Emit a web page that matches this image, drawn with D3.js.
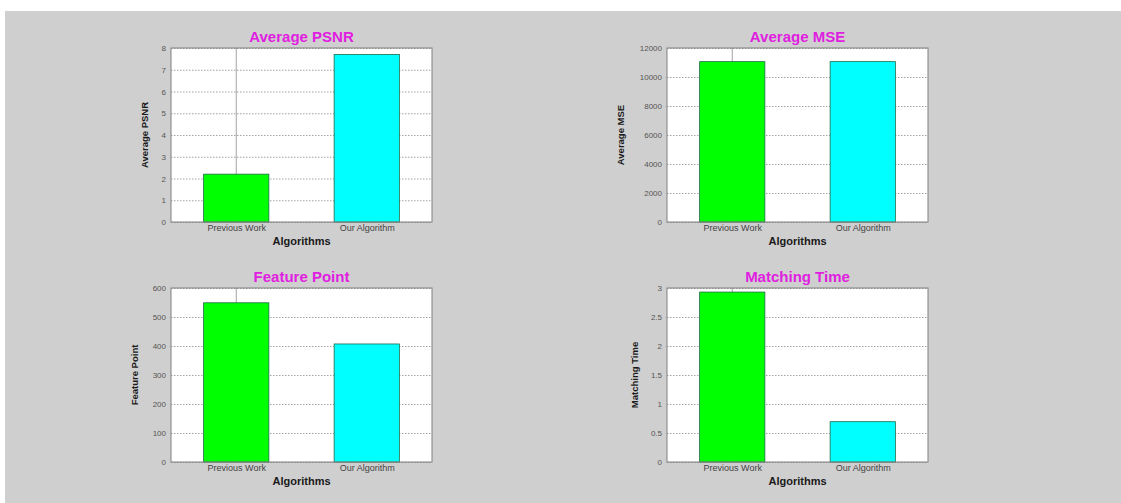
<!DOCTYPE html>
<html>
<head>
<meta charset="utf-8">
<script src="https://cdn.jsdelivr.net/npm/d3@7"></script>
<style>
  body { margin: 0; background: #ffffff; }
</style>
</head>
<body>
<div id="chart"></div>
<script>
// data
let categories = ["Previous Work", "Our Algorithm"]
let barColors = ["#00ff00", "#00ffff"]

let titles = ["Average PSNR", "Average MSE", "Feature Point", "Matching Time"]
let psnrValues = [2.2, 7.7]
let mseValues = [11060, 11060]
let featureValues = [549, 407]
let timeValues = [2.93, 0.695]

let psnrTicks = [0, 1, 2, 3, 4, 5, 6, 7, 8]
let mseTicks = [0, 2000, 4000, 6000, 8000, 10000, 12000]
let featureTicks = [0, 100, 200, 300, 400, 500, 600]
let timeTicks = [0, 0.5, 1, 1.5, 2, 2.5, 3]

var W = 1121, H = 503

var svg = d3.select("#chart")
  .append("svg")
  .attr("width", W)
  .attr("height", H)

// grey figure background under a white strip at the top
svg.append("rect")
  .attr("x", 5).attr("y", 11)
  .attr("width", W - 5).attr("height", H - 11)
  .attr("fill", "#cfcfcf")

var panels = [
  {title: titles[0], values: psnrValues, ticks: psnrTicks, left: 171, top: 48, labelX: -23},
  {title: titles[1], values: mseValues, ticks: mseTicks, left: 667, top: 48, labelX: -43},
  {title: titles[2], values: featureValues, ticks: featureTicks, left: 171, top: 288, labelX: -33},
  {title: titles[3], values: timeValues, ticks: timeTicks, left: 667, top: 288, labelX: -29}
]
var pw = 261, ph = 174
var font = "Arial, 'Liberation Sans', sans-serif"

panels.forEach(function(p) {
  var g = svg.append("g")
    .attr("transform", "translate(" + p.left + "," + p.top + ")")

  var x = d3.scaleLinear().domain([0.5, 2.5]).range([0, pw])
  var y = d3.scaleLinear()
    .domain([0, p.ticks[p.ticks.length - 1]])
    .range([ph, 0])

  g.append("rect")
    .attr("width", pw).attr("height", ph)
    .attr("fill", "#ffffff")

  // dotted horizontal grid
  g.append("g")
    .attr("color", "#8c8c8c")
    .call(d3.axisLeft(y).tickValues(p.ticks).tickSize(-pw).tickFormat(""))
    .call(g => g.select(".domain").remove())
    .call(g => g.selectAll("line").attr("stroke-dasharray", "1.5,1.5").attr("stroke-width", 0.8))

  // solid vertical line at the first category
  g.append("line")
    .attr("x1", x(1)).attr("x2", x(1))
    .attr("y1", 0).attr("y2", ph)
    .attr("stroke", "#8c8c8c")
    .attr("stroke-width", 0.8)

  g.selectAll(".bar")
    .data(p.values)
    .enter()
    .append("rect")
    .attr("class", "bar")
    .attr("x", (d, i) => x(i + 1) - (x(1.25) - x(1)))
    .attr("width", x(1.5) - x(1))
    .attr("y", d => y(d))
    .attr("height", d => ph - y(d))
    .attr("fill", (d, i) => barColors[i])
    .attr("stroke", "#1f6a4a")
    .attr("stroke-width", 0.8)

  // frame
  g.append("rect")
    .attr("width", pw).attr("height", ph)
    .attr("fill", "none")
    .attr("stroke", "#808080")
    .attr("stroke-width", 1)

  g.append("g")
    .call(d3.axisLeft(y).tickValues(p.ticks).tickSize(0).tickPadding(5)
      .tickFormat(d => String(d)))
    .call(g => g.select(".domain").remove())
    .call(g => g.selectAll("text")
      .attr("font-family", font)
      .attr("font-size", 8)
      .attr("fill", "#555555"))

  g.append("g")
    .attr("transform", "translate(0," + ph + ")")
    .call(d3.axisBottom(x).tickValues([1, 2]).tickSize(0).tickPadding(3)
      .tickFormat((d, i) => categories[i]))
    .call(g => g.select(".domain").remove())
    .call(g => g.selectAll("text")
      .attr("font-family", font)
      .attr("font-size", 9)
      .attr("fill", "#444444"))

  g.append("text")
    .attr("x", pw / 2)
    .attr("y", -6)
    .attr("text-anchor", "middle")
    .attr("font-family", font)
    .attr("font-weight", "bold")
    .attr("font-size", 15)
    .attr("fill", "#e020e0")
    .text(p.title)

  g.append("text")
    .attr("x", pw / 2)
    .attr("y", ph + 23)
    .attr("text-anchor", "middle")
    .attr("font-family", font)
    .attr("font-weight", "bold")
    .attr("font-size", 11)
    .attr("fill", "#1a1a1a")
    .text("Algorithms")

  g.append("text")
    .attr("transform", "rotate(-90)")
    .attr("x", -ph / 2)
    .attr("y", p.labelX)
    .attr("text-anchor", "middle")
    .attr("font-family", font)
    .attr("font-weight", "bold")
    .attr("font-size", 9.5)
    .attr("fill", "#1a1a1a")
    .text(p.title)
})
</script>
</body>
</html>
